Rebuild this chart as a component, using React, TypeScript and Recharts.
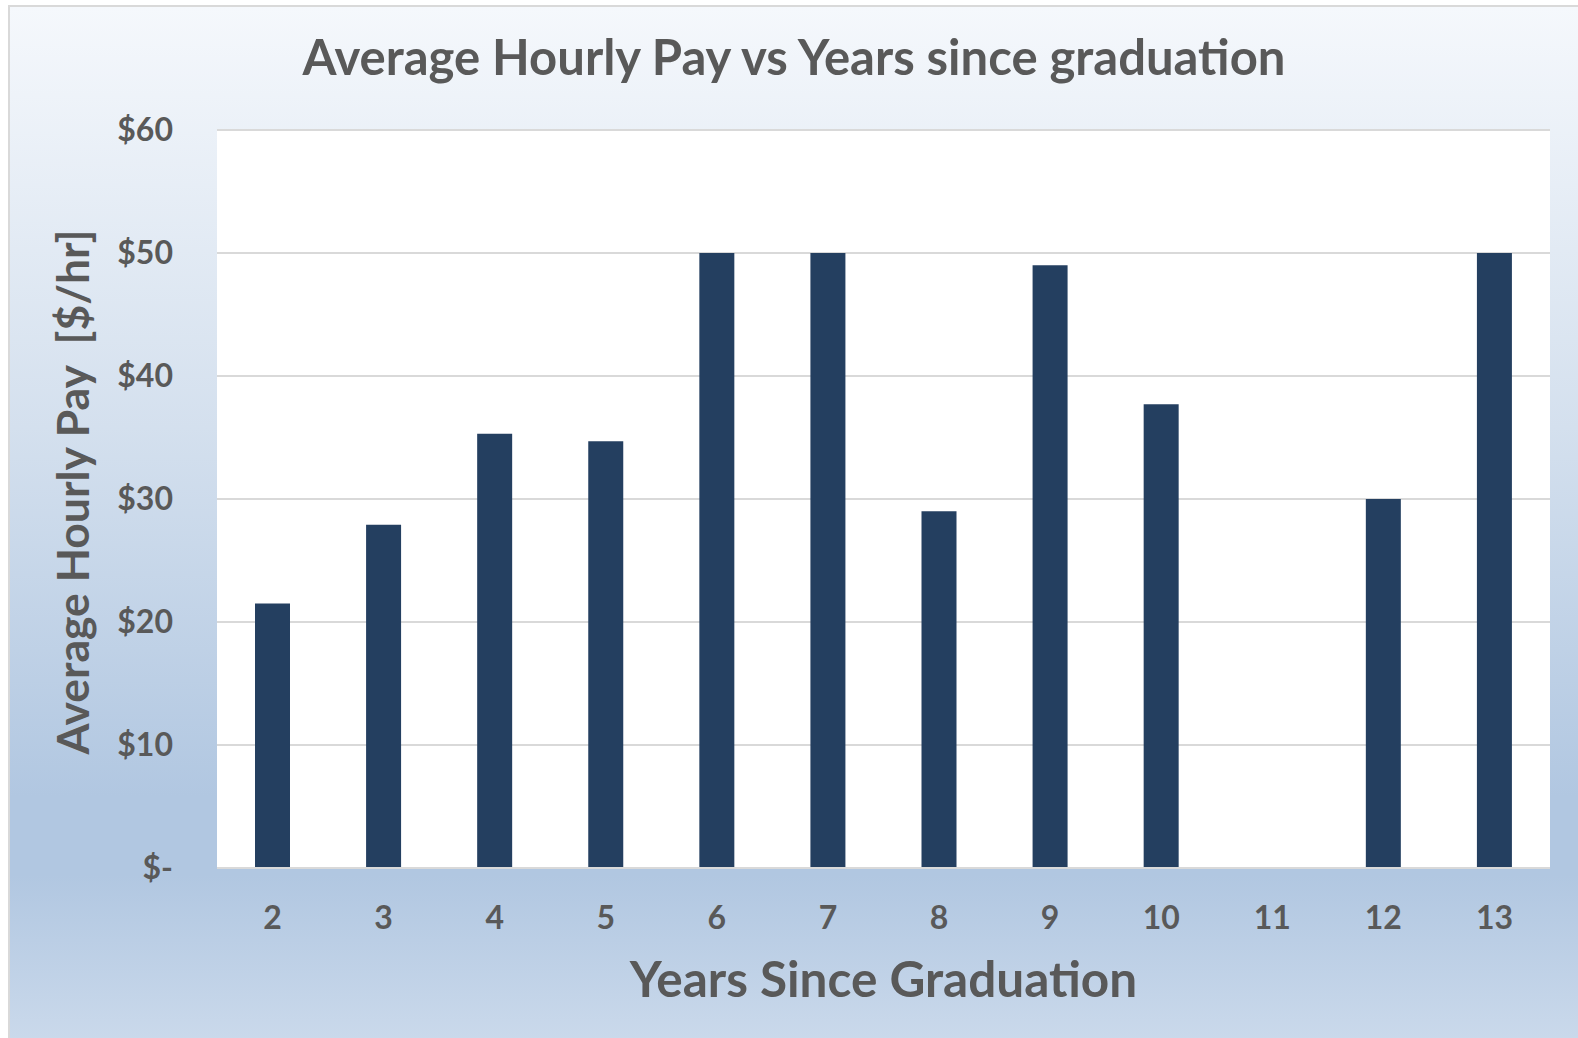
import React from "react";
import { Bar, BarChart, CartesianGrid, XAxis, YAxis } from "recharts";

const years = ["2", "3", "4", "5", "6", "7", "8", "9", "10", "11", "12", "13"];
const hourlyPay = [21.5, 27.9, 35.3, 34.7, 50, 50, 29, 49, 37.7, 0, 30, 50];
const payTicks = [0, 10, 20, 30, 40, 50, 60];

const FONT = "Lato, 'Open Sans', sans-serif";
const TEXT = "#595959";

const data = years.map((year, i) => ({ year, pay: hourlyPay[i] }));

const fmtPay = (v: number) => (v === 0 ? "$-" : `$${v}`);

export default function App() {
  return (
    <div style={{ position: "relative", width: 1578, height: 1038, overflow: "hidden", fontFamily: FONT }}>
      <style>{"body{margin:0}"}</style>
      <div
        style={{
          position: "absolute",
          left: 8,
          top: 5,
          width: 1600,
          height: 1060,
          boxSizing: "border-box",
          border: "2px solid #D9D9D9",
          background:
            "linear-gradient(to bottom, #F5F8FC 0px, #D4E0EE 420px, #B1C7E1 790px, #B1C7E1 868px, #CAD9EB 1033px)",
        }}
      />
      <div
        style={{
          position: "absolute",
          left: 0,
          width: 1588,
          top: 26,
          textAlign: "center",
          fontSize: 49,
          fontWeight: 700,
          color: TEXT,
          lineHeight: "60px",
          whiteSpace: "nowrap",
        }}
      >
        Average Hourly Pay vs Years since graduation
      </div>
      <div style={{ position: "absolute", left: 0, top: 0 }}>
        <BarChart
          width={1578}
          height={1038}
          data={data}
          margin={{ top: 130, right: 28, left: 0, bottom: 0 }}
          barSize={35}
        >
          <CartesianGrid vertical={false} stroke="#D9D9D9" strokeWidth={2} fill="#FFFFFF" />
          <XAxis
            dataKey="year"
            height={170}
            axisLine={{ stroke: "#D9D9D9", strokeWidth: 2 }}
            tickLine={false}
            tickSize={0}
            tickMargin={38}
            tick={{ fill: TEXT, fontSize: 32, fontWeight: 700, fontFamily: FONT }}
            label={{
              content: (props: any) => {
                const vb = props.viewBox;
                return (
                  <text
                    x={vb.x + vb.width / 2}
                    y={vb.y + 129}
                    textAnchor="middle"
                    fill={TEXT}
                    fontSize={49.5}
                    fontWeight={700}
                    fontFamily={FONT}
                  >
                    Years Since Graduation
                  </text>
                );
              },
            }}
          />
          <YAxis
            width={217}
            domain={[0, 60]}
            ticks={payTicks}
            tickFormatter={fmtPay}
            axisLine={false}
            tickLine={false}
            tickSize={0}
            tickMargin={44}
            tick={{ fill: TEXT, fontSize: 32, fontWeight: 700, fontFamily: FONT }}
            label={{
              content: (props: any) => {
                const vb = props.viewBox;
                const cx = vb.x + 89;
                const cy = vb.y + vb.height / 2 - 7;
                return (
                  <text
                    x={cx}
                    y={cy}
                    transform={`rotate(-90 ${cx} ${cy})`}
                    textAnchor="middle"
                    fill={TEXT}
                    fontSize={44.5}
                    fontWeight={700}
                    fontFamily={FONT}
                    style={{ whiteSpace: "pre" }}
                  >
                    {"Average Hourly Pay  [$/hr]"}
                  </text>
                );
              },
            }}
          />
          <Bar dataKey="pay" fill="#243F60" isAnimationActive={false} />
        </BarChart>
      </div>
    </div>
  );
}
